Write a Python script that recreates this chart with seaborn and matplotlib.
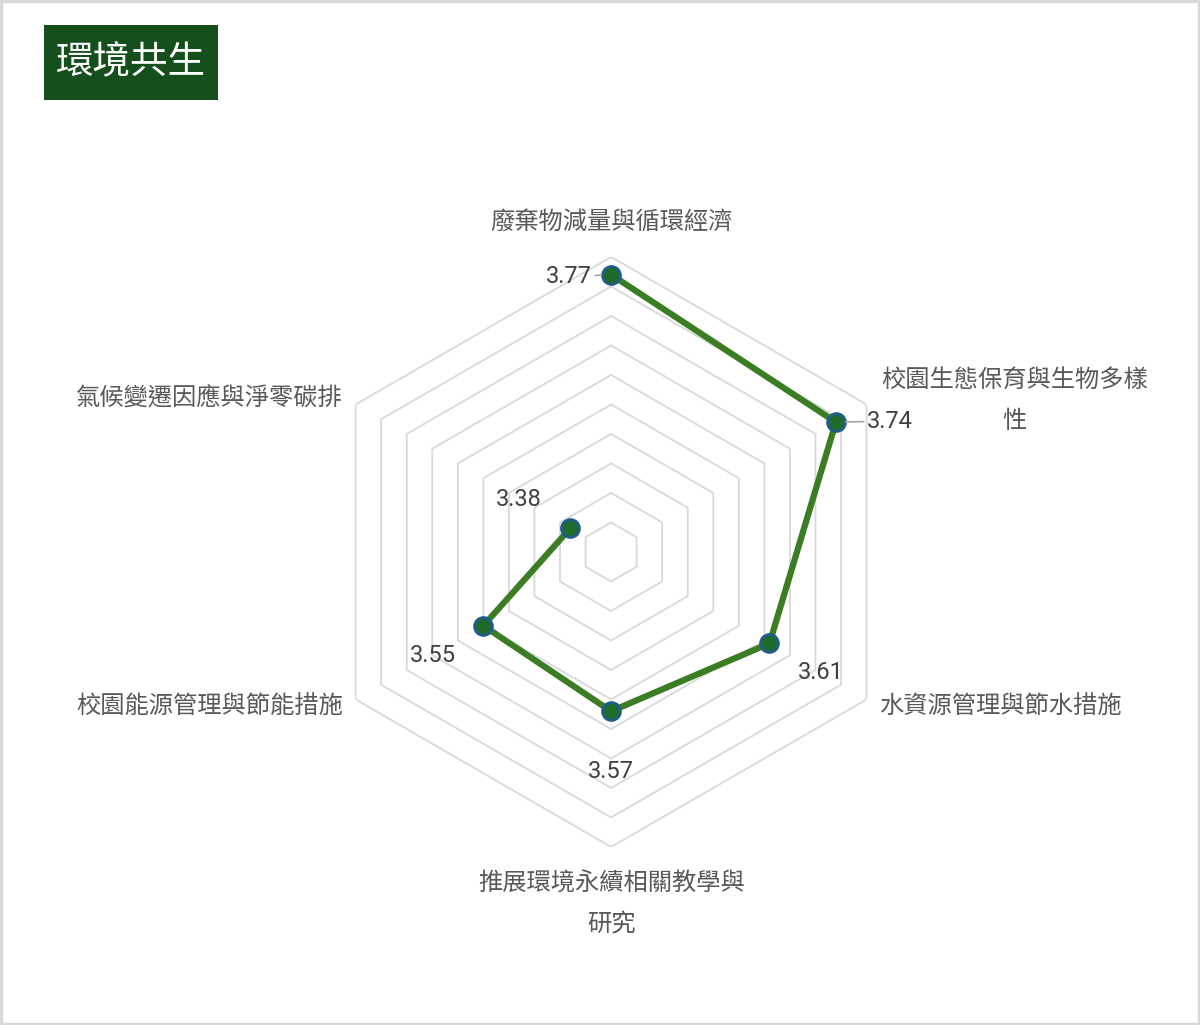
import numpy as np
import pandas as pd
import matplotlib
matplotlib.use("Agg")
import matplotlib.pyplot as plt
from matplotlib.patches import Rectangle
import seaborn as sns

# -----------------------------
# Data
# -----------------------------
categories = ["廢棄物減量與循環經濟", "校園生態保育與生物多樣性", "水資源管理與節水措施",
              "推展環境永續相關教學與研究", "校園能源管理與節能措施", "氣候變遷因應與淨零碳排"]
axis_labels = ["廢棄物減量與循環經濟", "校園生態保育與生物多樣\n性", "水資源管理與節水措施",
               "推展環境永續相關教學與\n研究", "校園能源管理與節能措施", "氣候變遷因應與淨零碳排"]
scores = [3.77, 3.74, 3.61, 3.57, 3.55, 3.38]
r_min, r_max, r_step = 3.3, 3.8, 0.05
title = "環境共生"

# -----------------------------
# Style
# -----------------------------
sns.set_theme(style="white")
plt.rcParams["font.family"] = ["Noto Sans CJK TC", "DejaVu Sans"]

line_color = "#3b7d23"
marker_face = "#1f6b2b"
marker_edge = "#1f5c8c"
grid_color = "#d9d9d9"
label_color = "#595959"
value_color = "#404040"

fig = plt.figure(figsize=(12, 10.25), dpi=100)
ax = fig.add_axes([0.2634, 0.1737, 0.4917, 0.5756], projection="polar")
ax.set_theta_offset(np.pi / 2)
ax.set_theta_direction(-1)
ax.set_ylim(r_min, r_max)
ax.set_axis_off()

n = len(categories)
angles = np.linspace(0, 2 * np.pi, n, endpoint=False)
closed = np.append(angles, angles[0])

# hexagonal grid rings
levels = np.arange(r_min + r_step, r_max + r_step / 2, r_step)
for lvl in levels:
    ax.plot(closed, [lvl] * (n + 1), color=grid_color, lw=1.3, zorder=1)

df = pd.DataFrame({"theta": closed, "score": scores + [scores[0]]})
sns.lineplot(data=df, x="theta", y="score", ax=ax, sort=False,
             color=line_color, lw=4.5, zorder=3)
sns.scatterplot(x=angles, y=scores, ax=ax, s=165, color=marker_face,
                edgecolor=marker_edge, linewidth=2, zorder=4)
ax.set_xlabel("")
ax.set_ylabel("")

# category labels (offsets in pixels from outer vertex)
label_pos = [((0, 35), "center"), ((148, 4), "center"), ((12, -6), "left"),
             ((0, -57), "center"), ((-13, -6), "right"), ((-13, 6), "right")]
for ang, txt, (off, ha) in zip(angles, axis_labels, label_pos):
    ax.annotate(txt, xy=(ang, r_max), xytext=off, textcoords="offset pixels",
                ha=ha, va="center", fontsize=17.5, color=label_color,
                fontweight="medium", linespacing=1.75, annotation_clip=False)

# value labels
value_off = [(-42, -2), (54, 1), (51, -29), (0, -60), (-50, -30), (-51, 29)]
for i, (ang, v, off) in enumerate(zip(angles, scores, value_off)):
    arrow = None
    if i in (0, 1):
        arrow = dict(arrowstyle="-", color="#a6a6a6", lw=1.2, shrinkA=26, shrinkB=7)
    ax.annotate(f"{v:.2f}", xy=(ang, v), xytext=off, textcoords="offset pixels",
                ha="center", va="center", fontsize=17, color=value_color,
                family=["Roboto", "DejaVu Sans"],
                arrowprops=arrow, annotation_clip=False, zorder=5)

# title box
fig.patches.append(Rectangle((44 / 1200, 1 - 100 / 1025), 174 / 1200, 75 / 1025,
                             transform=fig.transFigure, facecolor="#154f1b",
                             edgecolor="none", zorder=0))
fig.text(131 / 1200, 1 - 63 / 1025, title, color="white", fontsize=27,
         fontweight="medium", ha="center", va="center")

# outer frame
fig.patches.append(Rectangle((0.001, 0.001), 0.998, 0.998, transform=fig.transFigure,
                             fill=False, edgecolor="#d9d9d9", lw=2.5))

fig.savefig("out.png", dpi=100, facecolor="white")
